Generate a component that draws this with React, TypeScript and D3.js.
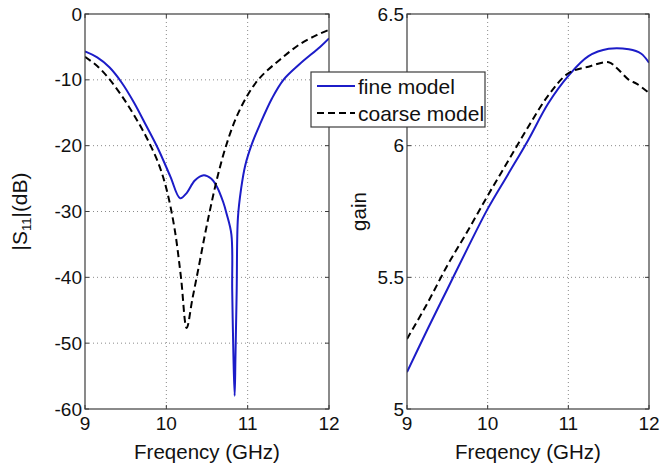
import React from 'react';
import * as d3 from 'd3';

// |S11| (dB) vs frequency (GHz)
const s11FineFreq = [9.0, 9.15, 9.3, 9.45, 9.6, 9.75, 9.9, 10.05, 10.17, 10.25, 10.35, 10.46, 10.55, 10.62, 10.7, 10.74, 10.8, 10.81, 10.825, 10.84, 10.85, 10.865, 10.88, 10.92, 10.97, 11.05, 11.15, 11.3, 11.44, 11.64, 11.89, 12.0];
const s11FineDb = [-5.7, -6.6, -8.1, -10.4, -13.4, -16.9, -20.5, -24.7, -28.0, -27.2, -25.3, -24.5, -25.0, -26.2, -28.6, -30.3, -33.5, -42, -52, -58, -52, -42, -31, -26.5, -23.0, -19.8, -16.8, -12.8, -10.0, -7.6, -5.0, -3.7];

const s11CoarseFreq = [9.0, 9.15, 9.3, 9.45, 9.6, 9.75, 9.9, 10.0, 10.1, 10.18, 10.25, 10.32, 10.4, 10.47, 10.54, 10.62, 10.72, 10.85, 11.0, 11.15, 11.4, 11.64, 11.85, 12.0];
const s11CoarseDb = [-6.5, -7.9, -9.9, -12.4, -15.3, -18.6, -22.6, -26.5, -32.5, -40.0, -47.7, -43.3, -38.3, -33.8, -29.6, -25.2, -20.6, -16.0, -12.3, -9.7, -6.9, -4.6, -3.2, -2.4];

// gain vs frequency (GHz)
const gainFineFreq = [9.0, 9.25, 9.5, 9.75, 10.0, 10.25, 10.5, 10.75, 11.0, 11.25, 11.5, 11.75, 11.9, 12.0];
const gainFine = [5.14, 5.3, 5.455, 5.61, 5.76, 5.89, 6.02, 6.16, 6.265, 6.34, 6.368, 6.366, 6.35, 6.315];

const gainCoarseFreq = [9.0, 9.25, 9.5, 9.75, 10.0, 10.25, 10.5, 10.75, 11.0, 11.25, 11.5, 11.6, 11.75, 11.85, 12.0];
const gainCoarse = [5.266, 5.4, 5.545, 5.675, 5.81, 5.94, 6.07, 6.19, 6.275, 6.3, 6.317, 6.295, 6.25, 6.235, 6.2];

const freqTicks = [9, 10, 11, 12];
const s11Ticks = [0, -10, -20, -30, -40, -50, -60];
const gainTicks = [5, 5.5, 6, 6.5];

const legendLabels = ['fine model', 'coarse model'];

const FONT = '"Liberation Sans", Arial, Helvetica, sans-serif';
const BLUE = '#1c1cc8';
const AXIS = '#3c3c3c';
const GRID = '#8a8a8a';
const DASH = '7,4';

const TOP = 14;
const BOTTOM = 409;

interface Series {
  freq: number[];
  vals: number[];
  color: string;
  dash?: string;
}

interface PanelProps {
  left: number;
  right: number;
  yDomain: [number, number];
  yTicks: number[];
  series: Series[];
  id: string;
}

const Panel: React.FC<PanelProps> = ({ left, right, yDomain, yTicks, series, id }) => {
  const x = d3.scaleLinear().domain([9, 12]).range([left, right]);
  const y = d3.scaleLinear().domain(yDomain).range([BOTTOM, TOP]);
  const tickLen = 4;

  return (
    <g>
      <clipPath id={id}>
        <rect x={left} y={TOP} width={right - left} height={BOTTOM - TOP} />
      </clipPath>

      {/* grid */}
      {freqTicks.slice(1, -1).map(t => (
        <line key={'gx' + t} x1={x(t)} x2={x(t)} y1={TOP} y2={BOTTOM}
          stroke={GRID} strokeWidth={1} strokeDasharray="1,3" />
      ))}
      {yTicks.filter(t => t !== yDomain[0] && t !== yDomain[1]).map(t => (
        <line key={'gy' + t} x1={left} x2={right} y1={y(t)} y2={y(t)}
          stroke={GRID} strokeWidth={1} strokeDasharray="1,3" />
      ))}

      {/* curves */}
      <g clipPath={`url(#${id})`}>
        {series.map((s, i) => {
          const line = d3.line<number>()
            .x((_, j) => x(s.freq[j]))
            .y(v => y(v))
            .curve(d3.curveCatmullRom.alpha(0.5));
          return (
            <path key={i} d={line(s.vals) || ''} fill="none" stroke={s.color}
              strokeWidth={2} strokeDasharray={s.dash} strokeLinejoin="round" />
          );
        })}
      </g>

      {/* box + ticks */}
      <rect x={left} y={TOP} width={right - left} height={BOTTOM - TOP}
        fill="none" stroke={AXIS} strokeWidth={1.2} />
      {freqTicks.map(t => (
        <g key={'tx' + t}>
          <line x1={x(t)} x2={x(t)} y1={BOTTOM} y2={BOTTOM - tickLen} stroke={AXIS} />
          <line x1={x(t)} x2={x(t)} y1={TOP} y2={TOP + tickLen} stroke={AXIS} />
          <text x={x(t)} y={BOTTOM + 21} textAnchor="middle" fontSize={19}
            fill="#111" fontFamily={FONT}>{t}</text>
        </g>
      ))}
      {yTicks.map(t => (
        <g key={'ty' + t}>
          <line x1={left} x2={left + tickLen} y1={y(t)} y2={y(t)} stroke={AXIS} />
          <line x1={right} x2={right - tickLen} y1={y(t)} y2={y(t)} stroke={AXIS} />
          <text x={left - 3} y={y(t)} dy="0.35em" textAnchor="end" fontSize={19}
            fill="#111" fontFamily={FONT}>{t}</text>
        </g>
      ))}

      <text x={(left + right) / 2} y={459} textAnchor="middle" fontSize={20.5}
        fill="#111" fontFamily={FONT}>Freqency (GHz)</text>
    </g>
  );
};

export default function App() {
  const W = 661;
  const H = 467;
  const mid = (TOP + BOTTOM) / 2;

  const legendX = 311;
  const legendY = 72;
  const legendW = 174;
  const legendH = 55;

  return (
    <svg width={W} height={H} viewBox={`0 0 ${W} ${H}`}
      style={{ position: 'absolute', left: 0, top: 0, background: '#fff' }}>
      <rect x={0} y={0} width={W} height={H} fill="#fff" />

      <Panel id="clipL" left={85} right={329} yDomain={[-60, 0]} yTicks={s11Ticks}
        series={[
          { freq: s11FineFreq, vals: s11FineDb, color: BLUE },
          { freq: s11CoarseFreq, vals: s11CoarseDb, color: '#000', dash: DASH },
        ]} />
      <Panel id="clipR" left={407} right={649} yDomain={[5, 6.5]} yTicks={gainTicks}
        series={[
          { freq: gainFineFreq, vals: gainFine, color: BLUE },
          { freq: gainCoarseFreq, vals: gainCoarse, color: '#000', dash: DASH },
        ]} />

      {/* y labels */}
      <text transform={`translate(27,${mid}) rotate(-90)`} textAnchor="middle"
        fontSize={21} fill="#111" fontFamily={FONT}>
        |S<tspan fontSize={13} dy={4}>11</tspan><tspan dy={-4}>|(dB)</tspan>
      </text>
      <text transform={`translate(366,${mid}) rotate(-90)`} textAnchor="middle"
        fontSize={20.5} fill="#111" fontFamily={FONT}>gain</text>

      {/* legend */}
      <g>
        <rect x={legendX} y={legendY} width={legendW} height={legendH}
          fill="#fff" stroke={AXIS} strokeWidth={1.2} />
        {legendLabels.map((label, i) => {
          const ly = legendY + 14 + i * 27;
          return (
            <g key={label}>
              <line x1={legendX + 6} x2={legendX + 44} y1={ly} y2={ly}
                stroke={i === 0 ? BLUE : '#000'} strokeWidth={2}
                strokeDasharray={i === 0 ? undefined : '7,4'} />
              <text x={legendX + 47} y={ly} dy="0.36em" fontSize={21}
                fill="#111" fontFamily={FONT}>{label}</text>
            </g>
          );
        })}
      </g>
    </svg>
  );
}
